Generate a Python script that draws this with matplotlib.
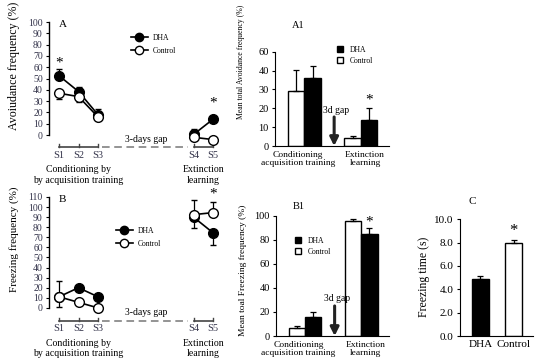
import matplotlib
matplotlib.use("Agg")
import matplotlib.pyplot as plt
from matplotlib.lines import Line2D
from matplotlib.patches import Patch
import numpy as np

plt.rcParams['font.family'] = ['Liberation Serif', 'DejaVu Serif']

W, H = 550, 364

# ---- data ----
sessions = ['S1', 'S2', 'S3', 'S4', 'S5']

avoid_dha = [52.5, 38.5, 18, 0.5, 14]
avoid_dha_up = [6, 4, 5, 5, 3]
avoid_ctrl = [37, 34, 16, -2, -4]
avoid_ctrl_down = [5, 5, 3, 0, 0]

freeze_dha = [11, 20, 11, 90, 74.5]
freeze_dha_low = [0, 0, 0, 11, 12]
freeze_dha_up = [16, 0, 0, 0, 0]
freeze_ctrl = [11, 5.5, 0, 92.5, 94.5]
freeze_ctrl_low = [10, 0, 0, 0, 0]
freeze_ctrl_up = [0, 0, 0, 15, 11]

phases = ['Conditioning\nacquisition training', 'Extinction\nlearning']
a1_dha = [36, 13.7]
a1_dha_err = [6.5, 6.5]
a1_ctrl = [29, 4]
a1_ctrl_err = [11.5, 1.5]

b1_dha = [15.8, 84.5]
b1_dha_err = [4.5, 5]
b1_ctrl = [6.9, 96]
b1_ctrl_err = [1.7, 1.5]

c_groups = ['DHA', 'Control']
c_vals = [4.9, 7.95]
c_err = [0.27, 0.3]

tick_col = '#33334a'
PT = 0.72  # points per pixel at dpi 100


def px_axes(fig, left, top, right, bottom):
    return fig.add_axes([left / W, 1 - bottom / H, (right - left) / W, (bottom - top) / H])


def below(ax, x, y, dy_px, s, **kw):
    # text placed dy_px pixels under a data point
    ax.annotate(s, xy=(x, y), xytext=(0, -dy_px * PT), textcoords='offset points',
                ha='center', va='center', annotation_clip=False, **kw)


fig = plt.figure(figsize=(W / 100, H / 100), dpi=100)

# session x positions (layout)
sx = [1, 2, 3, 7.9, 8.9]


def session_panel(ax, dha, dha_err, ctrl, ctrl_err, ymax, ystep, yb, gap_y, star_pts, label,
                  ylabel, leg_anchor):
    ax.set_xlim(0.487, 9.77)
    ax.set_ylim(yb[0], yb[1])
    for s in ['top', 'right', 'bottom']:
        ax.spines[s].set_visible(False)
    ax.spines['left'].set_bounds(0, ymax)
    ax.spines['left'].set_linewidth(1.0)
    ax.set_xticks([])
    ax.set_yticks(np.arange(0, ymax + 1, ystep))
    ax.tick_params(axis='y', direction='out', length=2.5, width=0.8, labelsize=7,
                   labelcolor=tick_col, pad=2)
    for seg in [slice(0, 3), slice(3, 5)]:
        xs = sx[seg]
        ax.errorbar(xs, dha[seg], yerr=[dha_err[0][seg], dha_err[1][seg]], fmt='-o', color='k',
                    mfc='k', mec='k', ms=7, lw=1.2, capsize=2, elinewidth=0.9, zorder=3,
                    clip_on=False)
        ax.errorbar(xs, ctrl[seg], yerr=[ctrl_err[0][seg], ctrl_err[1][seg]], fmt='-o',
                    color='k', mfc='white', mec='k', ms=7, lw=1.2, capsize=2, elinewidth=0.9,
                    zorder=4, clip_on=False)
    # brackets under sessions
    tick_h = (yb[1] - yb[0]) * 0.025
    for a, b in [(0, 2), (3, 4)]:
        ax.plot([sx[a], sx[b]], [gap_y, gap_y], color='#444444', lw=1.2, clip_on=False)
        for i in range(a, b + 1):
            ax.plot([sx[i], sx[i]], [gap_y, gap_y + tick_h], color='#444444', lw=1.0,
                    clip_on=False)
    for i, s in enumerate(sessions):
        below(ax, sx[i], gap_y, 8, s, fontsize=7.5, color=tick_col)
    ax.plot([sx[2] + 0.2, sx[3] - 0.3], [gap_y, gap_y], ls=(0, (5, 3)), color='#777777',
            lw=1.1, clip_on=False)
    below(ax, (sx[2] + sx[3]) / 2, gap_y, -8, '3-days gap', fontsize=7)
    for xi, yi in star_pts:
        ax.text(sx[xi], yi, '*', ha='center', va='center', fontsize=11)
    ax.text(1.0, yb[1] - (yb[1] - yb[0]) * 0.02, label, fontsize=8, ha='left', va='center')
    ext_x = (sx[3] + sx[4]) / 2
    below(ax, 2.0, gap_y, 22.5, 'Conditioning by', fontsize=7.1)
    below(ax, 2.0, gap_y, 33, 'by acquisition training', fontsize=7.1)
    below(ax, ext_x, gap_y, 22.5, 'Extinction', fontsize=7.1)
    below(ax, ext_x, gap_y, 33, 'learning', fontsize=7.1)
    handles = [Line2D([], [], color='k', marker='o', mfc='k', ms=6, lw=1.2),
               Line2D([], [], color='k', marker='o', mfc='white', ms=6, lw=1.2)]
    ax.legend(handles, ['DHA', 'Control'], loc='upper left', frameon=False, fontsize=5.5,
              handlelength=2.2, handletextpad=0.6, labelspacing=0.65,
              bbox_to_anchor=(leg_anchor[0] / W, 1 - leg_anchor[1] / H),
              bbox_transform=fig.transFigure, borderaxespad=0)
    fig.text(14 / W, 1 - ylabel[1] / H, ylabel[0], rotation=90, ha='center', va='center',
             fontsize=ylabel[2])


# ---- panel A ----
axA = px_axes(fig, 49, 22, 230, 152)
session_panel(axA, avoid_dha, ([0] * 5, avoid_dha_up), avoid_ctrl, (avoid_ctrl_down, [0] * 5),
              100, 10, (-15, 100), -10.6, [(0, 64), (4, 28)], 'A',
              ('Avoiudance frequency (%)', 66, 8.6), (128, 31))

# ---- panel B ----
axB = px_axes(fig, 49, 197, 230, 323)
session_panel(axB, freeze_dha, (freeze_dha_low, freeze_dha_up), freeze_ctrl,
              (freeze_ctrl_low, freeze_ctrl_up), 110, 10, (-15, 110), -13,
              [(4, 113)], 'B', ('Freezing frequency (%)', 239, 8.0), (113, 224))


def bar_panel(ax, dha, dha_err, ctrl, ctrl_err, ylim, yticks, yticklabels, arrow_top, gap_txt_y,
              stars, label, label_y, ylabel, leg_anchor):
    ax.set_xlim(0, 6.9)
    ax.set_ylim(*ylim)
    for s in ['top', 'right']:
        ax.spines[s].set_visible(False)
    ax.spines['left'].set_bounds(0, yticks[-1])
    ctr = np.array([1.77, 5.2])
    ax.bar(ctr - 0.5, ctrl, width=1.0, color='white', edgecolor='k', lw=1.0,
           yerr=[[0, 0], ctrl_err], capsize=2, error_kw=dict(elinewidth=0.9, capthick=0.9))
    ax.bar(ctr + 0.5, dha, width=1.0, color='black', edgecolor='k', lw=1.0,
           yerr=[[0, 0], dha_err], capsize=2, error_kw=dict(elinewidth=0.9, capthick=0.9))
    ax.set_yticks(yticks)
    ax.set_yticklabels(yticklabels)
    ax.set_xticks(ctr + np.array([-0.4, 0.25]))
    ax.set_xticklabels(phases, linespacing=1.0)
    ax.tick_params(axis='x', length=0, labelsize=6.8, pad=3.5)
    ax.tick_params(axis='y', direction='out', length=2.5, labelsize=7.5, pad=2)
    ax.annotate('', xy=(3.58, 0), xytext=(3.58, arrow_top),
                arrowprops=dict(arrowstyle='-|>,head_width=0.25,head_length=0.5', lw=2.2,
                                color='#222222', shrinkA=0, shrinkB=0))
    ax.text(3.7, gap_txt_y, '3d gap', ha='center', va='center', fontsize=7)
    for xs, ys in stars:
        ax.text(xs, ys, '*', ha='center', va='center', fontsize=11)
    ax.text(1.4, label_y, label, fontsize=7.5, ha='center', va='center')
    ax.set_ylabel(ylabel[0], fontsize=ylabel[1])
    ax.yaxis.set_label_coords(-0.26, ylabel[2])
    handles = [Patch(facecolor='black', edgecolor='k'), Patch(facecolor='white', edgecolor='k')]
    ax.legend(handles, ['DHA', 'Control'], loc='upper left', frameon=False, fontsize=5.5,
              handlelength=0.8, handleheight=0.8, handletextpad=0.8, labelspacing=0.35,
              bbox_to_anchor=(leg_anchor[0] / W, 1 - leg_anchor[1] / H),
              bbox_transform=fig.transFigure, borderaxespad=0)


# ---- panel A1 ----
axA1 = px_axes(fig, 275, 48, 389, 146)
bar_panel(axA1, a1_dha, a1_dha_err, a1_ctrl, a1_ctrl_err, (0, 52), [0, 10, 20, 30, 40, 50],
          ['0', '10', '20', '30', '40', '60'], 15.4, 19, [(5.7, 24.5)], 'A1', 64,
          ('Mean total Avoidance frequency (%)', 5.6, 0.86), (334, 43))

# ---- panel B1 ----
axB1 = px_axes(fig, 276, 214, 389, 336)
bar_panel(axB1, b1_dha, b1_dha_err, b1_ctrl, b1_ctrl_err, (0, 101.5), [0, 20, 40, 60, 80, 100],
          ['0', '20', '40', '60', '80', '100'], 25, 31, [(5.7, 95)], 'B1', 108,
          ('Mean toal Freezing frequency (%)', 6.8, 0.54), (292, 234))

# ---- panel C ----
axC = px_axes(fig, 460, 218, 533, 336)
for s in ['top', 'right']:
    axC.spines[s].set_visible(False)
c_x = np.array([1.17, 3.06])
axC.bar(c_x, c_vals, width=1.0, color=['black', 'white'], edgecolor='k', lw=1.0,
        yerr=[[0, 0], c_err], capsize=2, error_kw=dict(elinewidth=0.9, capthick=0.9))
axC.set_xlim(0, 4.17)
axC.set_ylim(0, 10.1)
axC.spines['left'].set_bounds(0, 10)
axC.set_yticks(np.arange(0, 10.1, 2))
axC.set_yticklabels([f'{v:.1f}' for v in np.arange(0, 10.1, 2)])
axC.set_xticks(c_x)
axC.set_xticklabels(c_groups)
axC.tick_params(axis='x', length=0, labelsize=8, pad=3)
axC.tick_params(axis='y', direction='out', length=2.5, labelsize=8, pad=2)
axC.set_ylabel('Freezing time (s)', fontsize=8.5, labelpad=3)
axC.text(3.06, 9.0, '*', ha='center', va='center', fontsize=12)
axC.text(0.7, 11.5, 'C', fontsize=8, ha='center', va='center')

fig.savefig('out.png', dpi=100)
